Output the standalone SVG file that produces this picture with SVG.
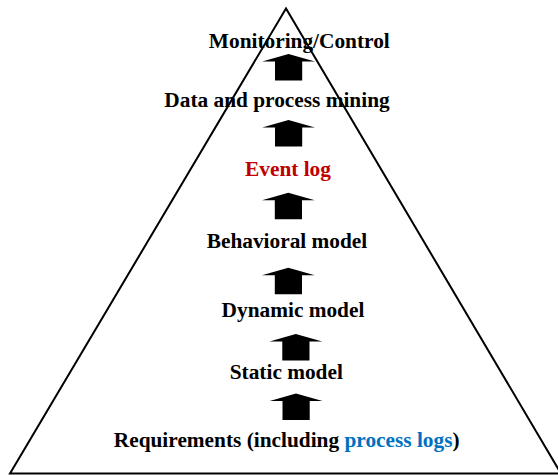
<svg xmlns="http://www.w3.org/2000/svg" xmlns:xlink="http://www.w3.org/1999/xlink" width="558" height="475" viewBox="0 0 558 475">
  <style>
    .frame { fill: none; stroke: #000; stroke-width: 2; stroke-linejoin: miter; }
    .label { font-family: "Liberation Serif", "Times New Roman", serif; font-weight: bold; font-size: 21.33px; fill: #000; text-anchor: middle; }
    .red { fill: #C00000; }
    .blue { fill: #0070C0; }
    .arrow { fill: #000; }
  </style>
  <defs>
    <!-- block up-arrow, tip at the origin -->
    <path id="up" d="M0,0 L26.5,7.5 L13.7,7.5 L13.7,26.5 L-13.5,26.5 L-13.5,7.5 L-26.3,7.5 Z"/>
  </defs>
  <rect width="558" height="475" fill="#fff"/>

  <!-- pyramid outline -->
  <polygon class="frame" points="286,8.5 10,473.5 561,473.5"/>

  <g id="level-monitoring">
    <text class="label" x="299.3" y="48.3">Monitoring/Control</text>
  </g>
  <g id="level-mining">
    <text class="label" x="277" y="106.7">Data and process mining</text>
  </g>
  <g id="level-eventlog">
    <text class="label red" x="288" y="175.5">Event log</text>
  </g>
  <g id="level-behavioral">
    <text class="label" x="287" y="248.3">Behavioral model</text>
  </g>
  <g id="level-dynamic">
    <text class="label" x="293" y="316.7">Dynamic model</text>
  </g>
  <g id="level-static">
    <text class="label" x="286.3" y="379.3">Static model</text>
  </g>
  <g id="level-requirements">
    <text class="label" x="286.7" y="446.7">Requirements (including <tspan class="blue">process logs</tspan>)</text>
  </g>

  <g id="connectors" class="arrow">
    <use xlink:href="#up" x="288.5" y="54"/>
    <use xlink:href="#up" x="288.5" y="120"/>
    <use xlink:href="#up" x="288.3" y="192.7"/>
    <use xlink:href="#up" x="288.3" y="267.7"/>
    <use xlink:href="#up" x="295.8" y="334"/>
    <use xlink:href="#up" x="296" y="393.5"/>
  </g>
</svg>
